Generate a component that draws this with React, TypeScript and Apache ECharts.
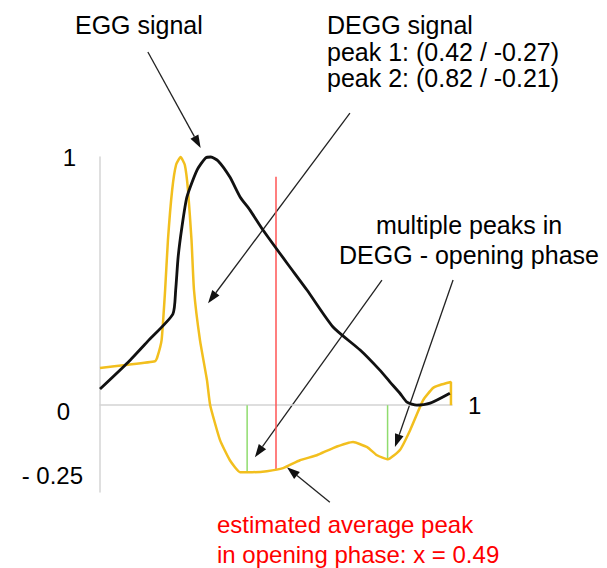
import React, { useEffect, useRef } from "react";
import * as echarts from "echarts";

// EGG signal (x = normalized time, y = normalized amplitude)
const eggSignal: [number, number][] = [
  [0, 0.065], [0.08, 0.173], [0.136, 0.258], [0.207, 0.367], [0.215, 0.464],
  [0.222, 0.597], [0.233, 0.72], [0.247, 0.839], [0.276, 0.948], [0.3, 0.996],
  [0.315, 1.0], [0.335, 0.985], [0.369, 0.919], [0.398, 0.839], [0.426, 0.786],
  [0.463, 0.706], [0.531, 0.573], [0.588, 0.464], [0.662, 0.315], [0.739, 0.222],
  [0.795, 0.141], [0.824, 0.093], [0.852, 0.048], [0.872, 0.012], [0.9, 0.0],
  [0.938, 0.008], [0.994, 0.048],
];

// DEGG signal
const deggSignal: [number, number][] = [
  [0, 0.15], [0.08, 0.163], [0.156, 0.177], [0.162, 0.19], [0.175, 0.262],
  [0.185, 0.464], [0.193, 0.665], [0.205, 0.867], [0.216, 0.968], [0.229, 1.0],
  [0.241, 0.968], [0.25, 0.867], [0.26, 0.665], [0.267, 0.464], [0.284, 0.262],
  [0.304, 0.1], [0.313, 0.0], [0.341, -0.141], [0.369, -0.222], [0.398, -0.27],
  [0.432, -0.27], [0.474, -0.266], [0.52, -0.254], [0.568, -0.222], [0.616, -0.202],
  [0.662, -0.173], [0.719, -0.149], [0.759, -0.169], [0.787, -0.202], [0.818, -0.218],
  [0.852, -0.181], [0.881, -0.101], [0.918, 0.02], [0.946, 0.069], [0.966, 0.081],
  [0.997, 0.093], [0.997, 0.0],
];

// Marker lines
const peak1Marker: [number, number][] = [[0.418, 0], [0.418, -0.265]];
const peak2Marker: [number, number][] = [[0.817, 0], [0.817, -0.214]];
const averagePeakMarker: [number, number][] = [[0.5, 0.92], [0.5, -0.258]];

// Axis ticks
const yTickValues = [-0.25, 0, 1];
const yTickLabels = ["- 0.25", "0", "1"];
const xEndLabel = "1";

// Annotation arrows (data coordinates: from -> tip)
const arrowFrom: [number, number][] = [
  [0.136, 1.423], [0.71, 1.177], [0.801, 0.504], [1.003, 0.504], [0.653, -0.391],
];
const arrowTo: [number, number][] = [
  [0.286, 1.036], [0.307, 0.411], [0.44, -0.21], [0.838, -0.169], [0.531, -0.25],
];

const FONT = "'Liberation Sans', Arial, sans-serif";

export default function App() {
  const ref = useRef<HTMLDivElement>(null);
  useEffect(() => {
    if (!ref.current) return;
    const chart = echarts.init(ref.current, null, { renderer: "svg" });
    const rich: Record<string, any> = {
      a: { fontSize: 24, fontFamily: FONT, color: "#000", padding: [16, 0, 0, 0] },
      b: { fontSize: 24, fontFamily: FONT, color: "#000", padding: [12, 13, 0, 0] },
      c: { fontSize: 24, fontFamily: FONT, color: "#000", padding: [0, 7, 0, 0] },
    };
    const keys = ["a", "b", "c"];
    chart.setOption({
      animation: false,
      grid: { left: 100, top: 157, width: 352, height: 335 },
      xAxis: {
        type: "value",
        min: 0,
        max: 1,
        name: xEndLabel,
        nameLocation: "end",
        nameGap: 16,
        nameTextStyle: { fontSize: 24, fontFamily: FONT, color: "#000", verticalAlign: "middle" },
        axisLine: { show: true, onZero: true, lineStyle: { color: "#d4d4d4", width: 1.5 } },
        axisTick: { show: false },
        axisLabel: { show: false },
        splitLine: { show: false },
      },
      yAxis: {
        type: "value",
        min: -0.35,
        max: 1,
        axisLine: { show: true, lineStyle: { color: "#d4d4d4", width: 1.5 } },
        axisTick: { show: false },
        splitLine: { show: false },
        axisLabel: {
          customValues: yTickValues,
          margin: 17,
          formatter: (v: number) => {
            const i = yTickValues.findIndex((t) => Math.abs(t - v) < 1e-6);
            return i < 0 ? "" : `{${keys[i]}|${yTickLabels[i]}}`;
          },
          rich,
        },
      },
      series: [
        {
          type: "line", data: peak1Marker, symbol: "none", clip: false,
          lineStyle: { color: "#8fdc6e", width: 1.5 },
        },
        {
          type: "line", data: peak2Marker, symbol: "none", clip: false,
          lineStyle: { color: "#8fdc6e", width: 1.5 },
        },
        {
          type: "line", data: averagePeakMarker, symbol: "none", clip: false,
          lineStyle: { color: "#ff5555", width: 1.5 },
        },
        {
          type: "line", name: "DEGG signal", data: deggSignal, symbol: "none", clip: false,
          smooth: 0.15, lineStyle: { color: "#f2bf1e", width: 2.5 },
        },
        {
          type: "line", name: "EGG signal", data: eggSignal, symbol: "none", clip: false,
          smooth: 0.2, lineStyle: { color: "#111", width: 2.8 },
        },
      ],
    });

    const toPx = (v: [number, number]) =>
      chart.convertToPixel({ gridIndex: 0 }, v) as unknown as number[];
    const arrowEls: any[] = [];
    arrowFrom.forEach((f, i) => {
      const a = toPx(f);
      const b = toPx(arrowTo[i]);
      const dx = b[0] - a[0];
      const dy = b[1] - a[1];
      const len = Math.hypot(dx, dy);
      const ux = dx / len;
      const uy = dy / len;
      const L = 13;
      const W = 4.5;
      const bx = b[0] - ux * L;
      const by = b[1] - uy * L;
      arrowEls.push({
        type: "line",
        shape: { x1: a[0], y1: a[1], x2: bx, y2: by },
        style: { stroke: "#222", lineWidth: 1.3 },
      });
      arrowEls.push({
        type: "polygon",
        shape: {
          points: [
            [b[0], b[1]],
            [bx - uy * W, by + ux * W],
            [bx + uy * W, by - ux * W],
          ],
        },
        style: { fill: "#111" },
      });
    });

    const txt = (
      text: string, x: number, y: number, color: string, size: number,
      lineHeight: number, align = "left"
    ) => ({
      type: "text",
      x,
      y,
      style: {
        text, fill: color, font: `${size}px ${FONT}`, lineHeight,
        textVerticalAlign: "top", textAlign: align,
      },
    });

    chart.setOption({
      graphic: [
        ...arrowEls,
        txt("EGG signal", 75, 12, "#000", 25, 26.5),
        txt("DEGG signal\npeak 1: (0.42 / -0.27)\npeak 2: (0.82 / -0.21)", 327, 12, "#000", 25, 26.5),
        txt("multiple peaks in\nDEGG - opening phase", 469, 210, "#000", 25, 30, "center"),
        txt("estimated average peak\nin opening phase: x = 0.49", 217, 509, "#ff0000", 24, 30),
      ],
    });

    return () => chart.dispose();
  }, []);
  return (
    <div
      ref={ref}
      style={{ position: "absolute", left: 0, top: 0, width: 607, height: 568 }}
    />
  );
}
